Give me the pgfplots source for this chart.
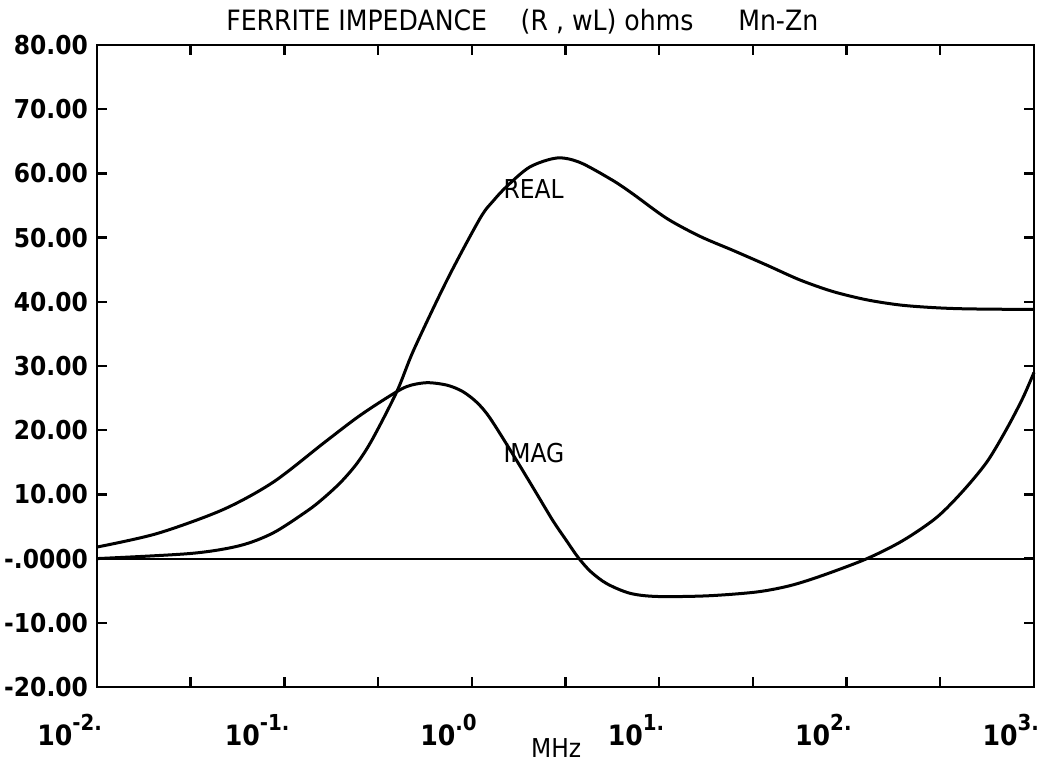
\documentclass[border=0pt]{standalone}
\usepackage{pgfplots}
\pgfplotsset{compat=1.18}
\usepackage{fontspec}
\setmainfont{DejaVu Sans Condensed}
\newcommand{\xl}[1]{10\raisebox{1.0ex}{\fontsize{11}{11}\selectfont #1}}
\begin{document}
\begin{tikzpicture}
\begin{axis}[
  scale only axis, width=468.5pt, height=321pt,
  xmode=log, xmin=0.01, xmax=1000, ymin=-20, ymax=80,
  xtick={0.01,0.031623,0.1,0.31623,1,3.1623,10,31.623,100,316.23,1000},
  xticklabels={\xl{-2.},,\xl{-1.},,\xl{.0},,\xl{1.},,\xl{2.},,\xl{3.}},
  minor xtick={},
  ytick={-20,-10,...,80},
  yticklabels={-20.00,-10.00,-.0000,10.00,20.00,30.00,40.00,50.00,60.00,70.00,80.00},
  tick align=inside, major tick length=5pt,
  tick style={line width=1.2pt, black},
  axis line style={line width=1.4pt},
  yticklabel style={font=\bfseries\fontsize{13}{15}\selectfont, xshift=-1pt},
  xticklabel style={font=\bfseries\fontsize{14}{16}\selectfont, anchor=north east, xshift=6pt, yshift=-10pt},
  xlabel={MHz},
  xlabel style={font=\fontsize{13}{15}\selectfont, at={(axis description cs:0.49,0)}, anchor=north, yshift=-22pt},
  clip=false,
]
\addplot[black, line width=1.5pt, smooth] coordinates {
(0.01,0) (0.0316,0.8) (0.0575,2.0) (0.0871,4.0) (0.132,7.4) (0.16,9.3) (0.200,11.9)
(0.245,14.9) (0.295,18.6) (0.398,26.0) (0.490,32.5) (0.741,43.5) (1.107,53.0) (1.3,55.7) (1.54,58.0)
(2.04,61.0) (2.85,62.4) (3.78,61.7) (5.66,58.9) (7.24,56.8) (10.96,53.0)
(16.5,50.2) (24.8,48.0) (37.6,45.7) (56.4,43.4) (84.5,41.6) (128.5,40.3)
(192.8,39.5) (289,39.1) (439,38.9) (1000,38.8)
};
\addplot[black, line width=1.5pt, smooth] coordinates {
(0.01,1.8) (0.0209,3.9) (0.0468,7.6) (0.0871,11.9) (0.162,18.0) (0.245,22.0)
(0.35,25.0) (0.45,26.8) (0.575,27.4) (0.741,27.0) (0.897,26.0) (1.067,24.3) (1.25,21.9) (1.66,16.2)
(2.2,10.3) (2.71,5.9) (3.2,2.8) (3.69,0.2) (4.3,-2.0) (5.25,-3.9) (6.98,-5.4) (9.73,-5.9) (18.0,-5.8)
(33.1,-5.2) (50.1,-4.2) (74.8,-2.6) (128.5,0) (199.5,2.8) (302,6.4)
(417,10.5) (562,15.1) (718,20.3) (871,25) (1000,29)
};
\addplot[black, line width=1.1pt] coordinates {(0.01,0) (1000,0)};
\node[anchor=west, font=\fontsize{13}{15}\selectfont, inner sep=0pt] at (axis cs:1.47,57.5) {REAL};
\node[anchor=west, font=\fontsize{13}{15}\selectfont, inner sep=0pt] at (axis cs:1.47,16.4) {IMAG};
\node[anchor=south, font=\fontsize{14}{16}\selectfont, inner sep=0pt] at (rel axis cs:0.454,1) [yshift=5pt]
  {FERRITE IMPEDANCE\hspace{1.2em}(R , wL) ohms\hspace{1.6em}Mn-Zn};
\end{axis}
\pgfresetboundingbox
\path[use as bounding box] (current axis.south west) ++(-48.5pt,-37pt) rectangle ++(522pt,380.5pt);
\end{tikzpicture}
\end{document}
